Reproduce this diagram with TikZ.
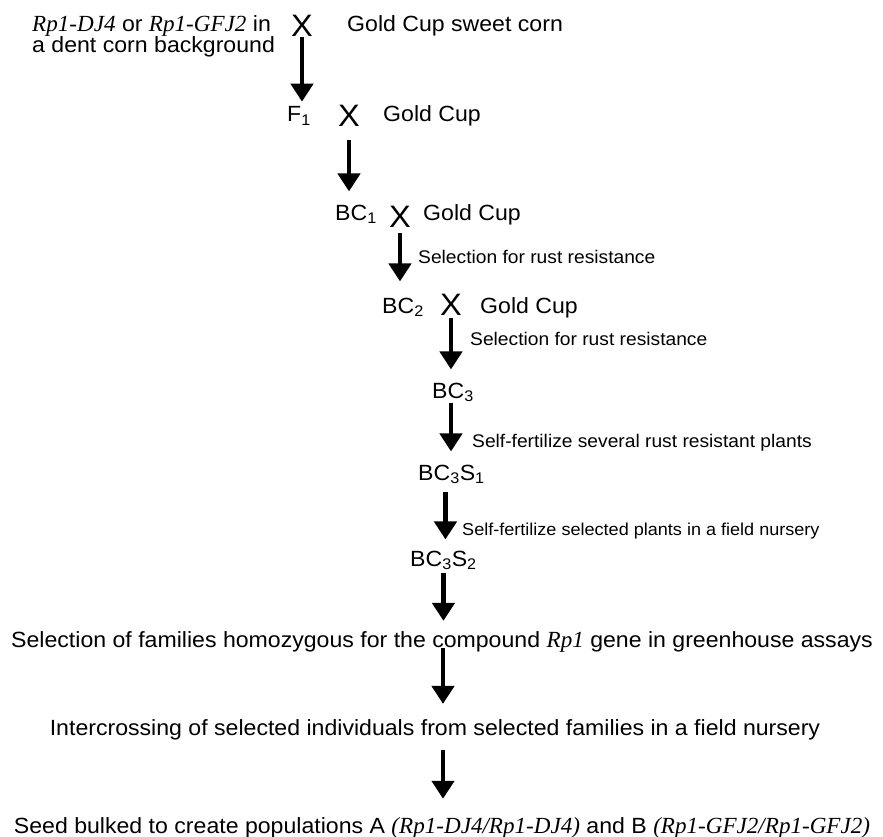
\documentclass[tikz,border=0pt]{standalone}
\usepackage{fontspec}
\setmainfont{Liberation Sans}[FakeStretch=1.05]
\newfontfamily\serifit{Liberation Serif}[Scale=1.05]
\usetikzlibrary{arrows.meta}
\newcommand{\gene}[1]{{\serifit\itshape #1}}

\begin{document}
\begin{tikzpicture}[x=1pt,y=-1pt]
\tikzstyle{stage}=[inner sep=0pt,anchor=base west,font=\fontsize{22}{21}\selectfont]
\tikzstyle{line}=[inner sep=0pt,anchor=base,font=\fontsize{22}{21}\selectfont]
\tikzstyle{cross}=[inner sep=0pt,anchor=base,font=\fontsize{31}{31}\selectfont]
\tikzstyle{note}=[inner sep=0pt,anchor=base west,font=\fontsize{18.3}{19}\selectfont]
\tikzstyle{flow}=[line width=4.5pt,-{Triangle[width=22pt,length=18pt]}]
\useasboundingbox (0,0) rectangle (883,837);
% parents
\node[stage,anchor=north west,align=left] (p0) at (32,15)
  {\gene{Rp1-DJ4} or \gene{Rp1-GFJ2} in\\a dent corn background};
\node[cross] (x1) at (302,37) {X};
\node[stage] (gc0) at (347,32) {Gold Cup sweet corn};
% backcrosses
\node[stage] (f1) at (287,122) {F\textsubscript{1}};
\node[cross] (x2) at (349,127) {X};
\node[stage] (gc1) at (383,122) {Gold Cup};
\node[stage] (bc1) at (335,220) {BC\textsubscript{1}};
\node[cross] (x3) at (400,227) {X};
\node[stage] (gc2) at (423,220) {Gold Cup};
\node[stage] (bc2) at (382,313) {BC\textsubscript{2}};
\node[cross] (x4) at (451,315) {X};
\node[stage] (gc3) at (480,313) {Gold Cup};
\node[stage] (bc3) at (432,398) {BC\textsubscript{3}};
% selfing
\node[stage] (bc3s1) at (418,480) {BC\textsubscript{3}S\textsubscript{1}};
\node[stage] (bc3s2) at (410,566) {BC\textsubscript{3}S\textsubscript{2}};
\node[line] (sel) at (442,647) {Selection of families homozygous for the compound \gene{Rp1} gene in greenhouse assays};
\node[line] (inter) at (435,735) {Intercrossing of selected individuals from selected families in a field nursery};
\node[line] (bulk) at (442,833) {Seed bulked to create populations A \gene{(Rp1-DJ4/Rp1-DJ4)} and B \gene{(Rp1-GFJ2/Rp1-GFJ2)}};
% notes
\node[note] (n3) at (418,263) {Selection for rust resistance};
\node[note] (n4) at (470,345) {Selection for rust resistance};
\node[note] (n5) at (472,447) {Self-fertilize several rust resistant plants};
\node[note,font=\fontsize{17.2}{19}\selectfont] (n6) at (462,535) {Self-fertilize selected plants in a field nursery};
% arrows
\draw[flow,shorten >=5pt] (x1.south) -- (x1.south |- f1.north);
\draw[flow,shorten <=13pt,shorten >=13pt] (x2.south) -- (x2.south |- bc1.north);
\draw[flow,shorten <=6pt,shorten >=16pt] (x3.south) -- (x3.south |- bc2.north);
\draw[flow,shorten <=3pt,shorten >=13pt] (x4.south) -- (x4.south |- bc3.north);
\draw[flow,shorten <=5pt,shorten >=13pt] ([xshift=-2pt]bc3.base) -- ([xshift=-2pt]bc3.base |- bc3s1.north);
\draw[flow,shorten <=12pt,shorten >=11pt] ([xshift=-6pt]bc3s1.base) -- ([xshift=-6pt]bc3s1.base |- bc3s2.north);
\draw[flow,shorten <=7pt,shorten >=10pt] (bc3s2.base) -- (bc3s2.base |- sel.north);
\draw[flow,shorten <=1pt,shorten >=15pt] ([xshift=1pt]sel.base) -- ([xshift=1pt]sel.base |- inter.north);
\draw[flow,shorten <=15pt,shorten >=18pt] ([xshift=8pt]inter.base) -- ([xshift=8pt]inter.base |- bulk.north);
\end{tikzpicture}
\end{document}
